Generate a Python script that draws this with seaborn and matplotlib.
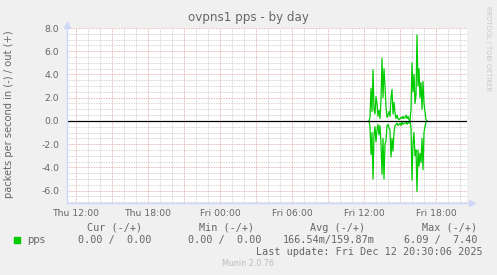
import matplotlib
matplotlib.use("Agg")
import matplotlib.pyplot as plt
import matplotlib.dates as mdates
from matplotlib.ticker import MultipleLocator, FuncFormatter
import numpy as np
import pandas as pd
import seaborn as sns

# ---------------- data ----------------
title = "ovpns1 pps - by day"
ylabel = "packets per second in (-) / out (+)"
view_start = "2025-12-11 11:15"
view_end = "2025-12-12 20:35"
burst_start = "2025-12-12 12:25"   # first sample of the burst (5-minute steps)

out_pps = [0.0, 0.3, 2.8, 0.8, 4.4, 1.0, 0.6, 2.1, 1.5, 0.4,
           0.9, 0.2, 1.8, 5.4, 2.0, 4.5, 3.0, 1.2, 0.3, 0.5,
           0.8, 0.4, 2.0, 2.7, 0.6, 1.6, 0.7, 0.2, 0.5, 0.2,
           0.1, 0.2, 0.3, 0.2, 0.4, 0.2, 0.3, 0.5, 0.2, 0.4,
           0.1, 0.0, 1.0, 5.0, 2.5, 4.0, 1.5, 2.2, 7.4, 3.0,
           4.5, 2.0, 3.3, 1.0, 3.4, 1.5, 0.8, 0.1, 0.0]
in_pps = [0.0, 0.5, 2.9, 1.0, 5.0, 1.2, 0.5, 1.8, 0.8, 0.3,
          1.2, 0.4, 2.0, 4.6, 1.5, 5.0, 2.0, 1.7, 0.4, 0.3,
          0.6, 0.8, 3.1, 1.5, 2.6, 1.0, 0.4, 0.3, 0.2, 0.4,
          0.3, 0.2, 0.4, 0.1, 0.3, 0.2, 0.2, 0.1, 0.3, 0.1,
          0.2, 0.0, 0.6, 5.1, 2.0, 1.0, 3.0, 2.5, 6.09, 2.5,
          3.9, 2.8, 3.6, 1.5, 4.2, 1.0, 0.5, 0.1, 0.0]

legend_headers = ["Cur (-/+)", "Min (-/+)", "Avg (-/+)", "Max (-/+)"]
legend_values = ["0.00 /  0.00", "0.00 /  0.00", "166.54m/159.87m", "6.09 /  7.40"]
series_name = "pps"
last_update = "Last update: Fri Dec 12 20:30:06 2025"
footer = "Munin 2.0.76"
watermark = "RRDTOOL / TOBI OETIKER"

# ---------------- style ----------------
W, H = 497, 275
BG = "#F0F0F0"
FONT = "#666666"
AXIS = "#CFD6F8"
GREEN = "#00CC00"

sns.set_style("white")
plt.rcParams["font.family"] = ["DejaVu Sans"]

times = pd.date_range(burst_start, periods=len(out_pps), freq="5min")
df = pd.DataFrame({"time": times, "out": out_pps, "in_neg": [-v for v in in_pps]})

fig = plt.figure(figsize=(W / 100, H / 100), dpi=100, facecolor=BG)
L, R, T, B = 67, 467, 28, 203
ax = fig.add_axes([L / W, 1 - B / H, (R - L) / W, (B - T) / H])
ax.set_facecolor("white")

# grid
ax.xaxis.set_major_locator(mdates.HourLocator(byhour=range(0, 24, 3)))
ax.xaxis.set_minor_locator(mdates.HourLocator())
ax.yaxis.set_major_locator(MultipleLocator(2.0))
ax.yaxis.set_minor_locator(MultipleLocator(0.5))
ax.grid(which="minor", color="#C8C8C8", linestyle=(0, (1, 1)), linewidth=0.6)
ax.grid(which="major", color="#E3A0A0", linestyle=(0, (1, 1)), linewidth=0.6)
ax.set_axisbelow(True)

sns.lineplot(data=df, x="time", y="out", ax=ax, color=GREEN, linewidth=0.9)
sns.lineplot(data=df, x="time", y="in_neg", ax=ax, color=GREEN, linewidth=0.9)
ax.axhline(0, color="black", linewidth=0.9, zorder=5)

ax.set_xlim(pd.Timestamp(view_start), pd.Timestamp(view_end))
ax.set_ylim(-7.07, 8.0)


def xfmt(v, pos):
    d = mdates.num2date(v)
    if d.hour % 6 == 0:
        return d.strftime("%a %H:%M")
    return ""


ax.xaxis.set_major_formatter(FuncFormatter(xfmt))
ax.yaxis.set_major_formatter(FuncFormatter(lambda v, p: f"{v:.1f}"))
ax.tick_params(axis="x", which="major", colors="#E3A0A0", labelcolor=FONT,
               labelsize=6.7, length=3, direction="inout", pad=3, width=0.7)
ax.tick_params(axis="x", which="minor", length=0)
ax.tick_params(axis="y", which="major", colors="#E3A0A0", labelcolor=FONT,
               labelsize=6.7, length=3, direction="inout", pad=4, width=0.7)
ax.tick_params(axis="y", which="minor", length=0)
ax.set_xlabel("")
ax.set_ylabel("")

for s in ["top", "right"]:
    ax.spines[s].set_visible(False)
for s in ["left", "bottom"]:
    ax.spines[s].set_color(AXIS)
    ax.spines[s].set_linewidth(1.0)
    ax.spines[s].set_zorder(6)

# axis arrows
ax.plot([0], [1.015], marker="^", color=AXIS, markersize=4.5,
        transform=ax.transAxes, clip_on=False, zorder=7)
ax.plot([1.012], [0], marker=">", color=AXIS, markersize=4.5,
        transform=ax.transAxes, clip_on=False, zorder=7)


def fx(x):
    return x / W


def fy(y):
    return 1 - y / H


fig.text(fx(248), fy(18), title, ha="center", va="center", fontsize=8.6, color=FONT)
fig.text(fx(9), fy(114), ylabel, ha="center", va="center", rotation=90,
         fontsize=7.1, color=FONT)
fig.text(fx(488), fy(6), watermark, ha="center", va="top", rotation=270,
         fontsize=4.8, color="#C8C8C8")

mono = "DejaVu Sans Mono"
hdr_right = [142, 254, 365, 477]
val_right = [152, 261, 375, 477]
for h, xr in zip(legend_headers, hdr_right):
    fig.text(fx(xr), fy(228), h, ha="right", va="center", family=mono,
             fontsize=7.3, color=FONT)
for v, xr in zip(legend_values, val_right):
    fig.text(fx(xr), fy(240), v, ha="right", va="center", family=mono,
             fontsize=7.3, color=FONT)
fig.patches.append(plt.Rectangle((fx(14), fy(243)), 6 / W, 6 / H,
                                 transform=fig.transFigure, color=GREEN))
fig.text(fx(27), fy(240), series_name, ha="left", va="center",
         fontsize=7.3, color=FONT)
fig.text(fx(483), fy(252), last_update, ha="right", va="center", family=mono,
         fontsize=7.3, color=FONT)
fig.text(fx(248), fy(264), footer, ha="center", va="center",
         fontsize=5.8, color="#BBBBBB")

fig.savefig("out.png", dpi=100, facecolor=BG)
